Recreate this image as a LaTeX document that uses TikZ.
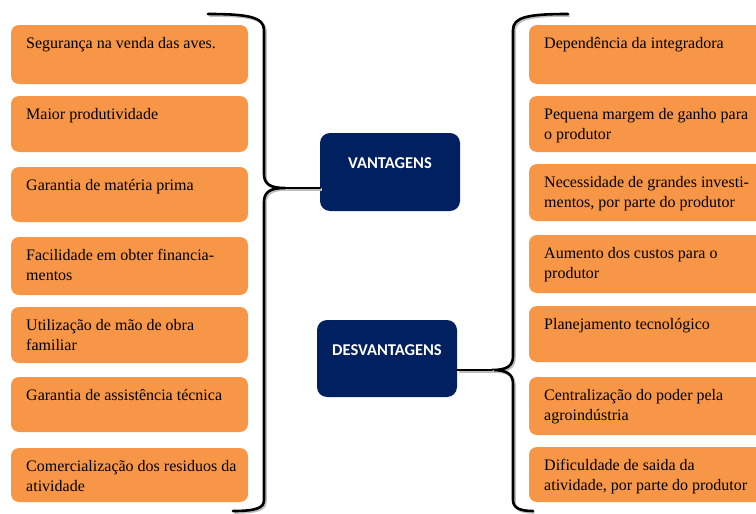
\documentclass[tikz,border=0pt]{standalone}
\usepackage{fontspec}
\setmainfont{Liberation Serif}
\newfontfamily\hubfont{Carlito}
\definecolor{boxorange}{HTML}{F79646}
\definecolor{hubnavy}{HTML}{002060}
\tikzset{
  item/.style={fill=boxorange,rounded corners=8pt,anchor=north west,inner sep=0,outer sep=0,minimum width=237pt},
  itemtext/.style={anchor=north west,inner sep=0,align=left,font=\fontsize{16}{20}\selectfont,xshift=15pt,yshift=-12pt},
  hub/.style={fill=hubnavy,rounded corners=10pt,anchor=north west,inner sep=0,outer sep=0,minimum width=140pt,minimum height=78pt},
  hubtext/.style={anchor=north,inner sep=0,text=white,font=\hubfont\bfseries\fontsize{16.5}{19}\selectfont,yshift=-24pt},
  brace/.style={line width=2.6pt,line cap=round,line join=round,
    preaction={draw=black!25,line width=2.6pt,transform canvas={xshift=1.5pt,yshift=-1.5pt}}},
}
\begin{document}
\begin{tikzpicture}[x=1pt,y=-1pt]
	\useasboundingbox (0,0) rectangle (756,514);
	\clip (0,0) rectangle (756,514);
	% vantagens
	\node[item,minimum height=59pt] (v1) at (11,25) {};
	\node[item,minimum height=56pt] (v2) at (11,96) {};
	\node[item,minimum height=55pt] (v3) at (11,167) {};
	\node[item,minimum height=58pt] (v4) at (11,237) {};
	\node[item,minimum height=56pt] (v5) at (11,307) {};
	\node[item,minimum height=55pt] (v6) at (11,377) {};
	\node[item,minimum height=54pt] (v7) at (11,448) {};
	\node[itemtext] (v1t) at (v1.north west) {Segurança na venda das aves.};
	\node[itemtext] (v2t) at (v2.north west) {Maior produtividade};
	\node[itemtext] (v3t) at (v3.north west) {Garantia de matéria prima};
	\node[itemtext] (v4t) at (v4.north west) {Facilidade em obter financia-\\mentos};
	\node[itemtext] (v5t) at (v5.north west) {Utilização de mão de obra\\familiar};
	\node[itemtext] (v6t) at (v6.north west) {Garantia de assistência técnica};
	\node[itemtext] (v7t) at (v7.north west) {Comercialização dos residuos da\\atividade};
	% desvantagens
	\node[item,minimum height=59pt] (d1) at (529,25) {};
	\node[item,minimum height=56pt] (d2) at (529,96) {};
	\node[item,minimum height=57pt] (d3) at (529,164) {};
	\node[item,minimum height=58pt] (d4) at (529,235) {};
	\node[item,minimum height=56pt] (d5) at (529,306) {};
	\node[item,minimum height=58pt] (d6) at (529,377) {};
	\node[item,minimum height=55pt] (d7) at (529,447) {};
	\node[itemtext] (d1t) at (d1.north west) {Dependência da integradora};
	\node[itemtext] (d2t) at (d2.north west) {Pequena margem de ganho para\\o produtor};
	\node[itemtext] (d3t) at (d3.north west) {Necessidade de grandes investi-\\mentos, por parte do produtor};
	\node[itemtext] (d4t) at (d4.north west) {Aumento dos custos para o\\produtor};
	\node[itemtext] (d5t) at (d5.north west) {Planejamento tecnológico};
	\node[itemtext] (d6t) at (d6.north west) {Centralização do poder pela\\agroindústria};
	\node[itemtext] (d7t) at (d7.north west) {Dificuldade de saida da\\atividade, por parte do produtor};
	% centre
	\node[hub] (vant) at (320,133) {};
	\node[hub,minimum height=77pt] (desv) at (317,320) {};
	\node[hubtext] (vantt) at (vant.north) {VANTAGENS};
	\node[hubtext] (desvt) at (desv.north) {DESVANTAGENS};
	% braces
	\coordinate (vtip) at (285,188);
	\coordinate (dtip) at (492,370);
	\draw[brace] (208,14) .. controls (248,14) and (264,17) .. (264,30) -- (264,174)
		.. controls (264,184) and (270,188) .. (vtip)
		.. controls (270,188) and (264,192) .. (264,202) -- (264,500)
		.. controls (264,508) and (256,511) .. (233,511);
	\draw[brace] (vtip) -- (vtip -| vant.west);
	\draw[brace] (568,14) .. controls (528,14) and (513,17) .. (513,30) -- (513,356)
		.. controls (513,366) and (507,370) .. (dtip)
		.. controls (507,370) and (513,374) .. (513,384) -- (513,500)
		.. controls (513,508) and (520,511) .. (533,511);
	\draw[brace] (dtip) -- (dtip -| desv.east);
\end{tikzpicture}
\end{document}
